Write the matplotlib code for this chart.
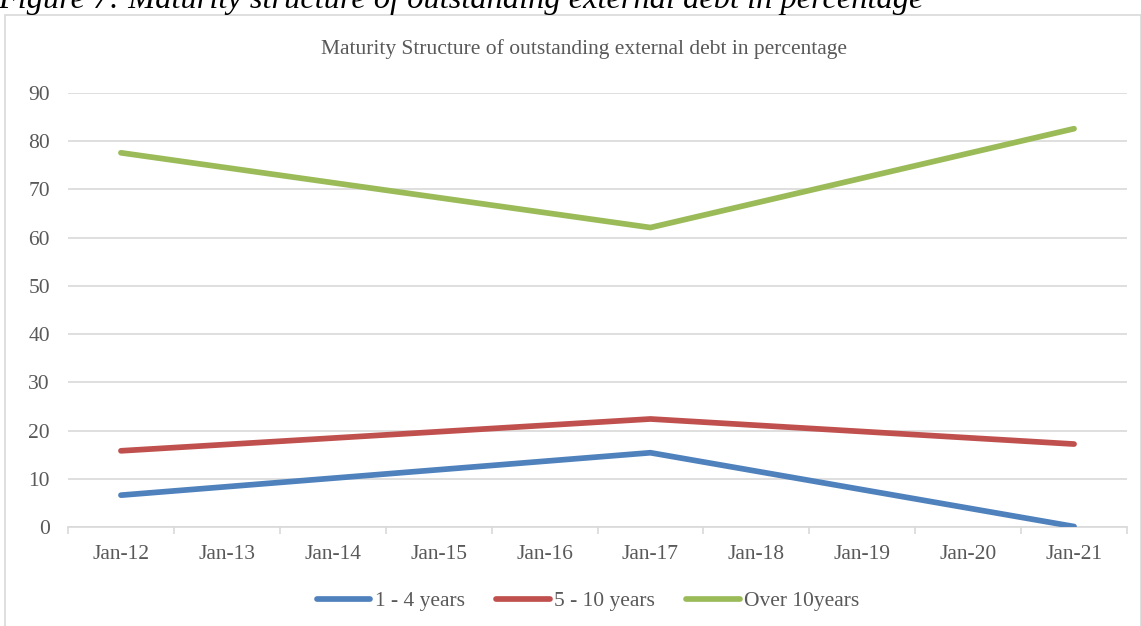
import matplotlib
matplotlib.use("Agg")
import matplotlib.pyplot as plt
from matplotlib.patches import Rectangle
import numpy as np

categories = ["Jan-12", "Jan-13", "Jan-14", "Jan-15", "Jan-16",
              "Jan-17", "Jan-18", "Jan-19", "Jan-20", "Jan-21"]
short_term = [6.6, None, None, None, None, 15.4, None, None, None, 0.1]
medium_term = [15.8, None, None, None, None, 22.4, None, None, None, 17.2]
long_term = [77.6, None, None, None, None, 62.1, None, None, None, 82.6]
series_names = ["1 - 4 years", "5 - 10 years", "Over 10years"]
yticks = [0, 10, 20, 30, 40, 50, 60, 70, 80, 90]

colors = ["#4F81BD", "#C0504D", "#9BBB59"]
W, H = 1141, 626
fig = plt.figure(figsize=(W / 100, H / 100), dpi=100)
plt.rcParams["font.family"] = ["Liberation Serif"]
FS = 15.5

# outer chart frame
fig.patches.append(Rectangle((5 / W, -0.05), (W - 5.5) / W, 1.05 - 15 / H,
                             transform=fig.transFigure, fill=False,
                             edgecolor="#D9D9D9", linewidth=1.2))

# figure caption (partly above the visible area)
fig.text(-2 / W, 1 - 8 / H, "Figure 7: Maturity structure of outstanding external debt in percentage",
         ha="left", va="baseline", fontsize=23.3, style="italic", color="black",
         family="Liberation Serif")

ax = fig.add_axes([68 / W, 1 - 527 / H, (1127 - 68) / W, (527 - 93) / H])

x = np.arange(len(categories))
for vals, name, c in zip([short_term, medium_term, long_term], series_names, colors):
    arr = np.array([np.nan if v is None else v for v in vals], dtype=float)
    m = ~np.isnan(arr)
    ax.plot(x[m], arr[m], color=c, linewidth=4.1, solid_capstyle="round",
            solid_joinstyle="miter", label=name, zorder=3)

ax.set_xlim(-0.5, len(categories) - 0.5)
ax.set_ylim(0, 90)
ax.set_yticks(yticks)
ax.set_yticklabels([str(t) for t in yticks])
ax.grid(axis="y", color="#D9D9D9", linewidth=1.2)
ax.set_axisbelow(True)
for s in ["top", "right", "left"]:
    ax.spines[s].set_visible(False)
ax.spines["bottom"].set_color("#D9D9D9")
ax.spines["bottom"].set_linewidth(1.2)

ax.set_xticks(x)
ax.set_xticklabels(categories)
ax.set_xticks(np.arange(-0.5, len(categories), 1.0), minor=True)
ax.tick_params(axis="x", which="major", length=0, pad=13, labelsize=FS, labelcolor="#595959")
ax.tick_params(axis="x", which="minor", length=5, width=1.2, color="#D9D9D9", direction="out")
ax.tick_params(axis="y", length=0, pad=13, labelsize=FS, labelcolor="#595959")

fig.text(584 / W, 1 - 49 / H, "Maturity Structure of outstanding external debt in percentage",
         ha="center", va="center", fontsize=FS, color="#595959")

leg = ax.legend(loc="center", bbox_to_anchor=(588 / W, 1 - 601 / H),
                bbox_transform=fig.transFigure, ncol=3, frameon=False,
                fontsize=FS, handlelength=2.5, handletextpad=0.2, columnspacing=1.45)
for t in leg.get_texts():
    t.set_color("#595959")

fig.savefig("out.png", dpi=100)
